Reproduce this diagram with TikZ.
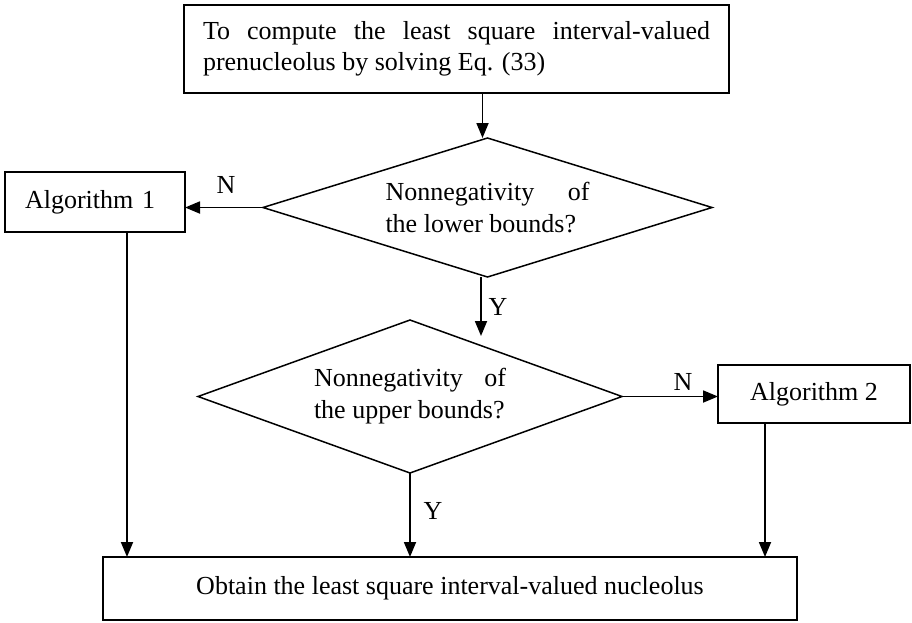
\documentclass[tikz,border=0pt]{standalone}
\usepackage{fontspec}
\setmainfont{Liberation Serif}
\usetikzlibrary{arrows.meta,shapes.geometric}
\begin{document}
\begin{tikzpicture}[x=1pt,y=-1pt,
  txt/.style={font=\fontsize{26}{31}\selectfont},
  box/.style={txt, draw, line width=1.6pt, inner sep=0pt, outer sep=0pt},
  dec/.style={draw, shape=diamond, line width=1.5pt, inner sep=0pt, outer sep=0pt,
              font=\fontsize{26}{32}\selectfont, align=justify},
  conn/.style={line width=1.8pt, -{Triangle[length=15pt,width=12pt]}},
  lbl/.style={txt, inner sep=0pt}]
\useasboundingbox (0,0) rectangle (912,622);

\node[box, minimum width=545pt, minimum height=88pt, text width=507pt, align=justify]
  (top) at (456.5,49) {To compute the least square interval-valued\linebreak prenucleolus by solving Eq. (33)};

\node[dec, minimum width=449pt, minimum height=139pt, aspect=3.23, text width=204pt]
  (d1) at (487.5,207.5) {Nonnegativity of\linebreak the lower bounds?};

\node[box, minimum width=180pt, minimum height=60pt, inner xsep=20pt, text width=140pt, align=left]
  (a1) at (95,202) {Algorithm 1};

\node[dec, minimum width=424pt, minimum height=153pt, aspect=2.77, text width=192pt]
  (d2) at (410,396.5) {Nonnegativity of\linebreak the upper bounds?};

\node[box, minimum width=192pt, minimum height=58pt] (a2) at (814,394) {Algorithm 2};

\node[box, minimum width=694pt, minimum height=63pt] (bot) at (450,588.5)
  {Obtain the least square interval-valued nucleolus};

\coordinate (y1end) at (481,336);

\draw[conn] ([xshift=-5pt]top.south -| d1.north) -- ([xshift=-5pt]d1.north);
\draw[conn] (d1.west) -- (d1.west -| a1.east);
\node[lbl] (n1) at (226,185) {N};
\draw[conn] (d1.south -| y1end) -- (y1end);
\node[lbl] (ylab1) at (498,307) {Y};
\draw[conn] (d2.east) -- (d2.east -| a2.west);
\node[lbl] (n2) at (683,382) {N};
\draw[conn] ([xshift=32pt]a1.south) -- ([xshift=32pt]a1.south |- bot.north);
\draw[conn] (d2.south) -- (d2.south |- bot.north);
\node[lbl] (ylab2) at (433,511) {Y};
\draw[conn] ([xshift=-49pt]a2.south) -- ([xshift=-49pt]a2.south |- bot.north);
\end{tikzpicture}
\end{document}
